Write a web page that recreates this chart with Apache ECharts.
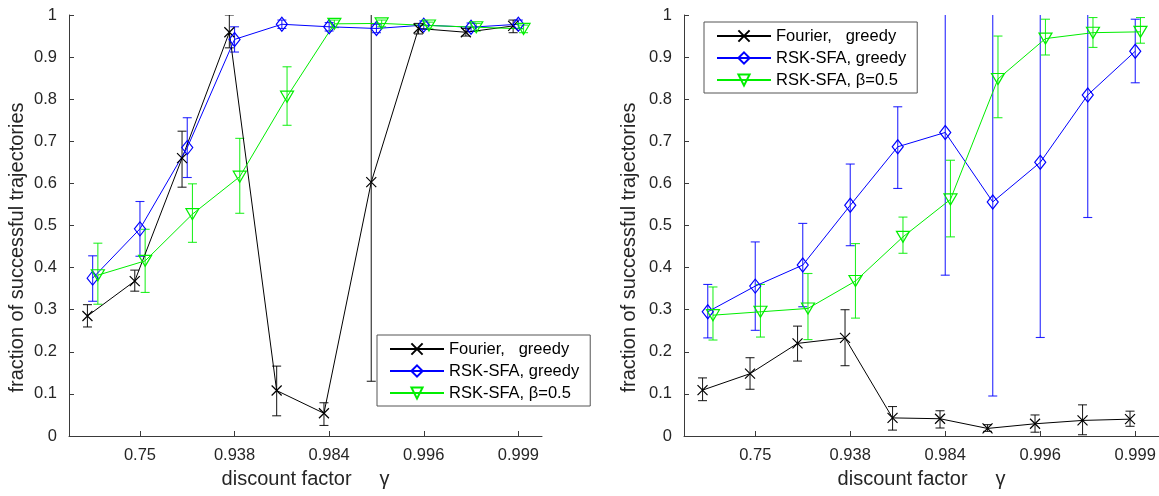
<!DOCTYPE html>
<html>
<head>
<meta charset="utf-8">
<script src="https://cdn.jsdelivr.net/npm/echarts@6/dist/echarts.min.js"></script>
<style>
html,body{margin:0;padding:0;background:#fff;}
#chart{width:1159px;height:496px;}
</style>
</head>
<body>
<div id="chart"></div>
<script>
// discount factor gamma = 1 - 2^-k, k = 1..10
const gammas = ['0.5','0.75','0.875','0.938','0.969','0.984','0.992','0.996','0.998','0.999'];
const labelledGammaIdx = [2, 4, 6, 8, 10];
const seriesNames = ['Fourier,   greedy', 'RSK-SFA, greedy', 'RSK-SFA, \u03b2=0.5'];

// Left panel
const fourierL    = [0.285, 0.368, 0.660, 0.959, 0.108, 0.054, 0.603, 0.968, 0.959, 0.974];
const fourierLlo  = [0.259, 0.344, 0.591, 0.922, 0.048, 0.025, 0.130, 0.955, 0.950, 0.958];
const fourierLhi  = [0.312, 0.394, 0.724, 1.000, 0.166, 0.079, 1.076, 0.980, 0.968, 0.988];
const greedyL     = [0.375, 0.492, 0.685, 0.942, 0.978, 0.972, 0.968, 0.976, 0.971, 0.978];
const greedyLlo   = [0.320, 0.427, 0.614, 0.912, 0.968, 0.962, 0.958, 0.966, 0.961, 0.968];
const greedyLhi   = [0.428, 0.557, 0.756, 0.972, 0.988, 0.982, 0.978, 0.986, 0.981, 0.988];
const betaL       = [0.382, 0.416, 0.527, 0.616, 0.806, 0.979, 0.980, 0.975, 0.971, 0.967];
const betaLlo     = [0.313, 0.341, 0.460, 0.529, 0.738, 0.970, 0.972, 0.967, 0.962, 0.958];
const betaLhi     = [0.458, 0.491, 0.599, 0.707, 0.877, 0.988, 0.988, 0.983, 0.980, 0.976];

// Right panel
const fourierR    = [0.109, 0.148, 0.220, 0.233, 0.043, 0.041, 0.018, 0.029, 0.037, 0.040];
const fourierRlo  = [0.084, 0.111, 0.178, 0.167, 0.014, 0.019, 0.011, 0.009, 0.003, 0.023];
const fourierRhi  = [0.138, 0.186, 0.261, 0.300, 0.070, 0.060, 0.027, 0.050, 0.074, 0.059];
const greedyR     = [0.295, 0.356, 0.406, 0.548, 0.687, 0.721, 0.556, 0.650, 0.810, 0.914];
const greedyRlo   = [0.233, 0.251, 0.307, 0.452, 0.588, 0.382, 0.095, 0.234, 0.519, 0.839];
const greedyRhi   = [0.360, 0.461, 0.505, 0.646, 0.782, 1.060, 1.017, 1.066, 1.100, 0.990];
const betaR       = [0.287, 0.295, 0.303, 0.368, 0.473, 0.562, 0.848, 0.944, 0.958, 0.960];
const betaRlo     = [0.228, 0.235, 0.229, 0.280, 0.434, 0.473, 0.756, 0.905, 0.923, 0.933];
const betaRhi     = [0.354, 0.360, 0.386, 0.457, 0.520, 0.655, 0.950, 0.990, 0.994, 0.994];

const FONT = "'Liberation Sans', Arial, Helvetica, sans-serif";
const AXIS_COLOR = '#3a3a3a';
const TEXT_COLOR = '#262626';
const colors = ['#000000', '#0000ff', '#00ee00'];
const offsets = [-0.11, 0, 0.11];
const symbols = ['path://M0,0L10,10M10,0L0,10', 'diamond', 'triangle'];
const symbolSizes = [[10,10], [11,14], [13,11]];
const symbolRot = [0, 0, 180];

function pts(vals, off) { return vals.map((v, i) => [i + 1 + off, v]); }
function errPts(lo, hi, off) { return lo.map((l, i) => [i + 1 + off, l, hi[i]]); }

function errSeries(idx, gridIdx, lo, hi) {
  const col = colors[idx];
  return {
    type: 'custom', xAxisIndex: gridIdx, yAxisIndex: gridIdx, clip: true, silent: true, z: 2,
    data: errPts(lo, hi, offsets[idx]),
    encode: { x: 0, y: [1, 2] },
    renderItem: function (params, api) {
      const x = api.value(0);
      const p1 = api.coord([x, api.value(1)]);
      const p2 = api.coord([x, api.value(2)]);
      const w = 4.5;
      const st = { stroke: col, lineWidth: 1.1, opacity: 0.85 };
      return { type: 'group', children: [
        { type: 'line', shape: { x1: p1[0], y1: p1[1], x2: p2[0], y2: p2[1] }, style: st },
        { type: 'line', shape: { x1: p1[0] - w, y1: p1[1], x2: p1[0] + w, y2: p1[1] }, style: st },
        { type: 'line', shape: { x1: p2[0] - w, y1: p2[1], x2: p2[0] + w, y2: p2[1] }, style: st }
      ]};
    }
  };
}

function lineSeries(idx, gridIdx, vals) {
  const col = colors[idx];
  return {
    type: 'line', name: seriesNames[idx], xAxisIndex: gridIdx, yAxisIndex: gridIdx, z: 3,
    data: pts(vals, offsets[idx]),
    symbol: symbols[idx], symbolSize: symbolSizes[idx], symbolRotate: symbolRot[idx],
    showAllSymbol: true, clip: true,
    itemStyle: { color: 'rgba(255,255,255,0)', borderColor: col, borderWidth: 1.2 },
    lineStyle: { color: col, width: 1 },
    emphasis: { disabled: true }
  };
}

function xAxis(gridIdx) {
  return {
    type: 'value', gridIndex: gridIdx, min: 0.5, max: 10.5,
    name: 'discount factor     \u03b3', nameLocation: 'middle', nameGap: 33,
    nameTextStyle: { fontFamily: FONT, fontSize: 20, color: TEXT_COLOR },
    axisLine: { show: true, lineStyle: { color: AXIS_COLOR, width: 1 } },
    axisTick: { show: true, inside: true, length: 5, customValues: labelledGammaIdx, lineStyle: { color: AXIS_COLOR } },
    axisLabel: { customValues: labelledGammaIdx, formatter: v => gammas[Math.round(v) - 1],
      fontFamily: FONT, fontSize: 16.5, color: TEXT_COLOR, margin: 11 },
    splitLine: { show: false }
  };
}

function yAxis(gridIdx, gap) {
  return {
    type: 'value', gridIndex: gridIdx, min: 0, max: 1, interval: 0.1,
    name: 'fraction of successful trajectories', nameLocation: 'middle', nameGap: gap,
    nameTextStyle: { fontFamily: FONT, fontSize: 20, color: TEXT_COLOR, padding: [0, 44, 0, 0] },
    axisLine: { show: true, lineStyle: { color: AXIS_COLOR, width: 1 } },
    axisTick: { show: true, inside: true, length: 5, lineStyle: { color: AXIS_COLOR } },
    axisLabel: { formatter: v => (v === 0 ? '0' : v === 1 ? '1' : v.toFixed(1)),
      fontFamily: FONT, fontSize: 16.5, color: TEXT_COLOR, margin: 12 },
    splitLine: { show: false }
  };
}

function legend(left, top) {
  return {
    data: seriesNames, orient: 'vertical', left: left, top: top,
    itemWidth: 54, itemHeight: 14, itemGap: 4,
    padding: [5, 11, 4, 12],
    borderColor: '#555', borderWidth: 1, backgroundColor: '#fff',
    selectedMode: false,
    textStyle: { fontFamily: FONT, fontSize: 16.5, color: '#000', lineHeight: 18 }
  };
}

const chart = echarts.init(document.getElementById('chart'), null, { renderer: 'canvas' });
chart.setOption({
  animation: false,
  backgroundColor: '#fff',
  grid: [
    { left: 69, top: 15, width: 473, height: 421 },
    { left: 684, top: 15, right: 0, height: 421 }
  ],
  xAxis: [xAxis(0), xAxis(1)],
  yAxis: [yAxis(0, 42), yAxis(1, 45)],
  legend: [legend(377, 335), legend(704, 22)],
  series: [
    errSeries(0, 0, fourierLlo, fourierLhi),
    errSeries(1, 0, greedyLlo, greedyLhi),
    errSeries(2, 0, betaLlo, betaLhi),
    lineSeries(0, 0, fourierL),
    lineSeries(1, 0, greedyL),
    lineSeries(2, 0, betaL),
    errSeries(0, 1, fourierRlo, fourierRhi),
    errSeries(1, 1, greedyRlo, greedyRhi),
    errSeries(2, 1, betaRlo, betaRhi),
    lineSeries(0, 1, fourierR),
    lineSeries(1, 1, greedyR),
    lineSeries(2, 1, betaR)
  ]
});
</script>
</body>
</html>
